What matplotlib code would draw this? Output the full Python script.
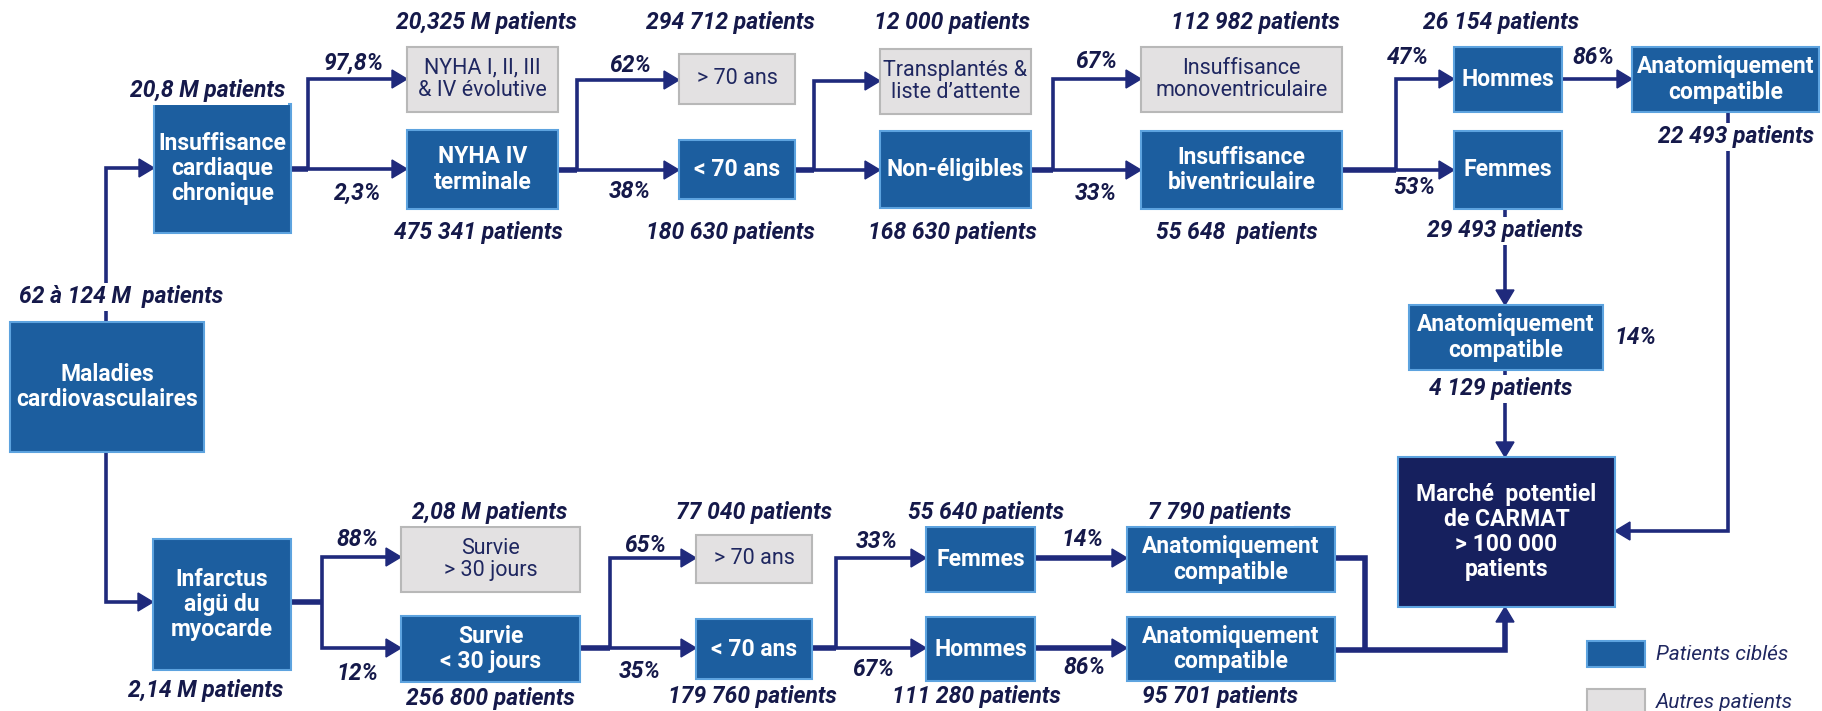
import matplotlib
matplotlib.use('Agg')
import matplotlib.pyplot as plt
from matplotlib.patches import Rectangle, Polygon

# ---------------- data (texts) ----------------
node_keys = ['mal', 'icc', 'nyha_o', 'nyha4', 'gt70a', 'lt70a', 'trans', 'nonel',
             'mono', 'bi', 'hom_a', 'fem_a', 'anat_a1', 'anat_a2', 'marche',
             'ima', 'surv_o', 'surv', 'gt70b', 'lt70b', 'fem_b', 'hom_b', 'anat_b1', 'anat_b2']
node_labels = ['Maladies\ncardiovasculaires', 'Insuffisance\ncardiaque\nchronique',
               'NYHA I, II, III\n& IV évolutive', 'NYHA IV\nterminale', '> 70 ans', '< 70 ans',
               'Transplantés &\nliste d\u2019attente', 'Non-éligibles',
               'Insuffisance\nmonoventriculaire', 'Insuffisance\nbiventriculaire',
               'Hommes', 'Femmes', 'Anatomiquement\ncompatible', 'Anatomiquement\ncompatible',
               'Marché  potentiel\nde CARMAT\n> 100 000\npatients',
               'Infarctus\naigü du\nmyocarde', 'Survie\n> 30 jours', 'Survie\n< 30 jours',
               '> 70 ans', '< 70 ans', 'Femmes', 'Hommes',
               'Anatomiquement\ncompatible', 'Anatomiquement\ncompatible']
node_kinds = ['target', 'target', 'other', 'target', 'other', 'target', 'other', 'target',
              'other', 'target', 'target', 'target', 'target', 'target', 'market',
              'target', 'other', 'target', 'other', 'target', 'target', 'target', 'target', 'target']

count_labels = ['62 à 124 M  patients', '20,8 M patients', '20,325 M patients', '475 341 patients',
                '294 712 patients', '180 630 patients', '12 000 patients', '168 630 patients',
                '112 982 patients', '55 648  patients', '26 154 patients', '29 493 patients',
                '22 493 patients', '4 129 patients',
                '2,14 M patients', '2,08 M patients', '256 800 patients', '77 040 patients',
                '179 760 patients', '55 640 patients', '111 280 patients', '7 790 patients',
                '95 701 patients']
pct_labels = ['97,8%', '2,3%', '62%', '38%', '67%', '33%', '47%', '53%', '86%', '14%',
              '88%', '12%', '65%', '35%', '33%', '67%', '14%', '86%']
legend_labels = ['Patients ciblés', 'Autres patients']

# ---------------- layout ----------------
box_pos = {
    'mal': (10, 322, 204, 452), 'icc': (154, 104, 291, 233),
    'nyha_o': (407, 47, 558, 112), 'nyha4': (407, 130, 558, 209),
    'gt70a': (679, 54, 795, 104), 'lt70a': (679, 140, 795, 199),
    'trans': (880, 49, 1031, 114), 'nonel': (880, 131, 1031, 208),
    'mono': (1141, 47, 1342, 112), 'bi': (1141, 131, 1342, 209),
    'hom_a': (1454, 47, 1562, 112), 'fem_a': (1454, 131, 1562, 209),
    'anat_a1': (1632, 47, 1819, 112), 'anat_a2': (1409, 305, 1603, 370),
    'marche': (1398, 457, 1615, 607),
    'ima': (153, 539, 291, 670), 'surv_o': (401, 527, 580, 592), 'surv': (401, 616, 580, 682),
    'gt70b': (696, 535, 812, 583), 'lt70b': (696, 619, 812, 679),
    'fem_b': (926, 527, 1035, 592), 'hom_b': (926, 617, 1035, 681),
    'anat_b1': (1127, 527, 1335, 592), 'anat_b2': (1127, 617, 1335, 681),
}
count_pos = [(121, 297), (208, 91), (486, 22), (478, 232), (730, 22), (730, 232),
             (952, 22), (952, 232), (1255, 22), (1237, 232), (1501, 22), (1505, 231),
             (1736, 137), (1501, 389),
             (206, 690), (490, 512), (490, 698), (754, 512), (752, 697), (986, 512),
             (976, 697), (1220, 512), (1220, 697)]
pct_pos = [(354, 63), (358, 193), (630, 65), (630, 192), (1096, 62), (1096, 193),
           (1408, 58), (1414, 188), (1593, 58), (1635, 337),
           (357, 540), (357, 673), (645, 545), (640, 672), (877, 542), (873, 670),
           (1082, 540), (1084, 668)]

BLUE = '#1c5e9f'
BLUE_EDGE = '#5da3df'
GRAY = '#e3e1e2'
GRAY_EDGE = '#b8b8b8'
MARKET = '#16205e'
LINE = '#1f2a7c'
TXT = '#15194a'
FAM = ['Roboto', 'DejaVu Sans']

W, H = 1822, 711
fig = plt.figure(figsize=(W / 100, H / 100), dpi=100)
ax = fig.add_axes([0, 0, 1, 1])
ax.set_xlim(0, W)
ax.set_ylim(H, 0)
ax.axis('off')

LW = 2.6
LW_T = 4.0


def arrow(pts, lw=LW, head=True):
    xs = [p[0] for p in pts]
    ys = [p[1] for p in pts]
    if head:
        (x0, y0), (x1, y1) = pts[-2], pts[-1]
        L, hw = 15, 9
        dx, dy = x1 - x0, y1 - y0
        n = (dx ** 2 + dy ** 2) ** 0.5
        ux, uy = dx / n, dy / n
        bx, by = x1 - ux * L, y1 - uy * L
        xs[-1], ys[-1] = bx + ux * 2, by + uy * 2
        ax.plot(xs, ys, color=LINE, lw=lw, solid_joinstyle='miter', solid_capstyle='butt', zorder=2)
        tri = [(x1, y1), (bx - uy * hw, by + ux * hw), (bx + uy * hw, by - ux * hw)]
        ax.add_patch(Polygon(tri, closed=True, color=LINE, zorder=3))
    else:
        ax.plot(xs, ys, color=LINE, lw=lw, solid_joinstyle='miter', solid_capstyle='butt', zorder=2)


# boxes
for key, label, kind in zip(node_keys, node_labels, node_kinds):
    x0, y0, x1, y1 = box_pos[key]
    if kind == 'other':
        fc, ec, tc, fw, fs = GRAY, GRAY_EDGE, '#1f2760', 'normal', 15.5
    elif kind == 'market':
        fc, ec, tc, fw, fs = MARKET, BLUE_EDGE, 'white', 'bold', 16.5
    else:
        fc, ec, tc, fw, fs = BLUE, BLUE_EDGE, 'white', 'bold', 16.5
    ax.add_patch(Rectangle((x0, y0), x1 - x0, y1 - y0, facecolor=fc, edgecolor=ec, lw=1.5, zorder=4))
    ax.text((x0 + x1) / 2, (y0 + y1) / 2, label, ha='center', va='center', color=tc,
            fontsize=fs, fontweight=fw, family=FAM, linespacing=1.12, zorder=5)

# connectors: top branch
arrow([(106, 322), (106, 168), (154, 168)])
arrow([(106, 452), (106, 602), (153, 602)])
arrow([(291, 169), (308, 169)], lw=LW_T, head=False)
arrow([(308, 169), (308, 79), (407, 79)])
arrow([(308, 169), (407, 169)])
arrow([(558, 170), (577, 170)], lw=LW_T, head=False)
arrow([(577, 170), (577, 80), (679, 80)])
arrow([(577, 170), (679, 170)])
arrow([(795, 170), (814, 170)], lw=LW_T, head=False)
arrow([(814, 170), (814, 81), (880, 81)])
arrow([(814, 170), (880, 170)])
arrow([(1031, 170), (1053, 170)], lw=LW_T, head=False)
arrow([(1053, 170), (1053, 79), (1141, 79)])
arrow([(1053, 170), (1141, 170)])
arrow([(1342, 170), (1396, 170)], lw=LW_T, head=False)
arrow([(1396, 170), (1396, 79), (1454, 79)])
arrow([(1396, 170), (1454, 170)])
arrow([(1562, 79), (1632, 79)])
arrow([(1728, 112), (1728, 531), (1615, 531)])
arrow([(1505, 209), (1505, 305)])
arrow([(1505, 370), (1505, 457)])
# bottom branch
arrow([(291, 602), (322, 602)], lw=LW_T, head=False)
arrow([(322, 602), (322, 557), (401, 557)])
arrow([(322, 602), (322, 648), (401, 648)])
arrow([(580, 648), (610, 648)], lw=LW_T, head=False)
arrow([(610, 648), (610, 558), (696, 558)])
arrow([(610, 648), (696, 648)])
arrow([(812, 648), (836, 648)], lw=LW_T, head=False)
arrow([(836, 648), (836, 558), (926, 558)])
arrow([(836, 648), (926, 648)])
arrow([(1035, 558), (1127, 558)], lw=LW_T)
arrow([(1035, 648), (1127, 648)], lw=LW_T)
arrow([(1335, 558), (1365, 558), (1365, 650)], lw=LW_T, head=False)
arrow([(1335, 650), (1505, 650), (1505, 607)], lw=LW_T)

# count labels
for txt, (x, y) in zip(count_labels, count_pos):
    ax.text(x, y, txt, ha='center', va='center', color=TXT, fontsize=16.5, fontweight='bold',
            fontstyle='italic', family=FAM, zorder=6,
            bbox=dict(facecolor='white', edgecolor='none', pad=1.5))

# percentages
for txt, (x, y) in zip(pct_labels, pct_pos):
    ax.text(x, y, txt, ha='center', va='center', color=TXT, fontsize=16.5, fontweight='bold',
            fontstyle='italic', family=FAM, zorder=6)

# legend
leg_y = [641, 689]
leg_fc = [BLUE, GRAY]
leg_ec = [BLUE_EDGE, GRAY_EDGE]
for lab, y, fc, ec in zip(legend_labels, leg_y, leg_fc, leg_ec):
    ax.add_patch(Rectangle((1587, y), 58, 26, facecolor=fc, edgecolor=ec, lw=1.5, zorder=4))
    ax.text(1656, y + 13, lab, ha='left', va='center', color='#1f2760', fontsize=15,
            fontstyle='italic', family=FAM, zorder=6)

fig.savefig('out.png', dpi=100, facecolor='white')
